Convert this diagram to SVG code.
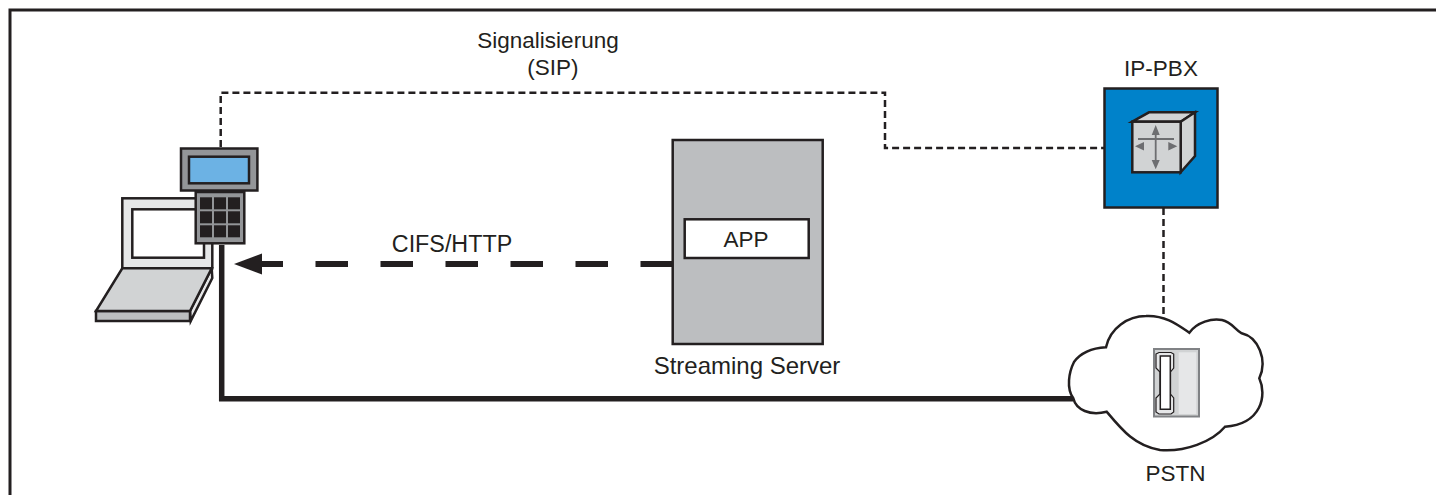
<svg xmlns="http://www.w3.org/2000/svg" width="1436" height="495" viewBox="0 0 1436 495">
<style>
.k{stroke:#231f20;stroke-width:2.5;stroke-linejoin:miter}
.t{font-family:"Liberation Sans",Arial,sans-serif;font-size:22.5px;fill:#231f20;text-anchor:middle}
.c{fill:none;stroke:#231f20}
.sig{stroke-width:2.5;stroke-dasharray:7 4}
.g{fill:#6d6e71}
.key{fill:#231f20}
</style>
<rect width="1436" height="495" fill="#fff"/>
<path id="frame" d="M10 495V10H1436" fill="none" stroke="#231f20" stroke-width="3"/>
<g id="connectors">
<path class="c sig" d="M220.700 147V92.700H885V148H1105"/>
<path class="c sig" d="M1163.500 208V316"/>
<path class="c" stroke-width="5.500" d="M221.700 245V398.700H1073"/>
<path class="c" stroke-width="6" stroke-dasharray="32.500 32.500" d="M673 264H251"/>
<path d="M234 264L262 253.500V274.500Z" fill="#231f20"/>
</g>
<g id="laptop">
<rect class="k" x="122.300" y="198.300" width="90" height="70" fill="#e6e7e8" stroke-width="2"/>
<rect class="k" x="132.300" y="209.300" width="71.700" height="48.400" fill="#fff" stroke-width="2"/>
<path class="k" d="M211.700 268.300L212.300 278L190.700 321L190 311Z" fill="#e6e7e8" stroke-width="1.500"/>
<rect class="k" x="96" y="311" width="94" height="10" fill="#bcbec0" stroke-width="2"/>
<path class="k" d="M122.300 268.300H211.700L190 311H96Z" fill="#d1d3d4" stroke-width="2"/>
</g>
<g id="phone">
<rect class="k" x="181" y="148.500" width="76.400" height="42" fill="#939598" stroke-width="3.500"/>
<rect class="k" x="189" y="156.700" width="60" height="26.600" fill="#6cb2e4" stroke-width="3.500"/>
<rect class="k" x="195.700" y="192" width="48.600" height="51.300" fill="#939598" stroke-width="3.500"/>
<rect class="key" x="200" y="197.300" width="12" height="12"/><rect class="key" x="214" y="197.300" width="12" height="12"/><rect class="key" x="228" y="197.300" width="12" height="12"/>
<rect class="key" x="200" y="211.300" width="12" height="12"/><rect class="key" x="214" y="211.300" width="12" height="12"/><rect class="key" x="228" y="211.300" width="12" height="12"/>
<rect class="key" x="200" y="225.300" width="12" height="12"/><rect class="key" x="214" y="225.300" width="12" height="12"/><rect class="key" x="228" y="225.300" width="12" height="12"/>
</g>
<g id="server">
<rect class="k" x="672.700" y="140" width="150" height="204" fill="#bcbec0"/>
<rect class="k" x="684.700" y="219.300" width="124" height="38.700" fill="#fff"/>
<text class="t" x="746" y="247.300">APP</text>
<text class="t" x="747" y="373.500" style="font-size:24px">Streaming Server</text>
</g>
<text id="label-cifs" class="t" x="452" y="251.700" style="font-size:23.300px">CIFS/HTTP</text>
<g id="label-sig"><text class="t" x="548" y="47.500">Signalisierung</text><text class="t" x="553" y="75">(SIP)</text></g>
<g id="pbx">
<rect class="k" x="1104.500" y="88.500" width="113" height="119" fill="#0082ca"/>
<path class="k" d="M1132.300 121.700L1149 112.300H1195L1180.700 121.700Z" fill="#d1d3d4" stroke-width="3"/>
<path class="k" d="M1180.700 121.700L1195 112.300V156L1180.700 172.300Z" fill="#d1d3d4" stroke-width="3"/>
<rect class="k" x="1132.300" y="121.700" width="48.400" height="50.600" fill="#d1d3d4" stroke-width="3"/>
<path d="M1155.700 130V165M1138 139H1174" stroke="#6d6e71" stroke-width="1.800" fill="none"/>
<path class="g" d="M1155.700 125L1151.700 135H1159.700ZM1155.700 169.300L1151.700 160H1159.700ZM1135 146.300L1144 142V150.600ZM1177.300 146.300L1168.300 142V150.600Z"/>
<text class="t" x="1161" y="75.500">IP-PBX</text>
</g>
<g id="pstn">
<path class="k" fill="#fff" d="M1106 347.300C1110 328 1128 316 1146 316C1165 315 1178 325 1189.300 332.700C1197 322 1212 318 1222 320C1232 322 1235 330 1241.700 333.300C1258 337 1268 360 1259.300 378.300C1267 395 1262 424 1225 426.700C1212 442 1185 452 1160 450C1135 446 1122 430 1106.700 411.700C1090 416 1076 410 1073.300 398.300C1066 388 1069 372 1074 362C1082 351 1094 348 1106 347.300Z"/>
<rect x="1154" y="349" width="45" height="67.500" fill="#d1d3d4" stroke="#808285" stroke-width="2"/>
<rect x="1178.700" y="352.300" width="17.600" height="61.700" fill="#e6e7e8"/>
<path d="M1156 354L1159 352.500H1171L1173.700 354V368L1170.500 372V394L1173.700 398V412L1171 414H1159L1156 412V398L1160 394V372L1156 368Z" fill="#e6e7e8" stroke="#231f20" stroke-width="1.200"/>
<path d="M1160.300 356H1170.300V409.300H1160.300Z" fill="#fff" stroke="#231f20" stroke-width="1.500"/>
<text class="t" x="1175.500" y="481">PSTN</text>
</g>
</svg>
